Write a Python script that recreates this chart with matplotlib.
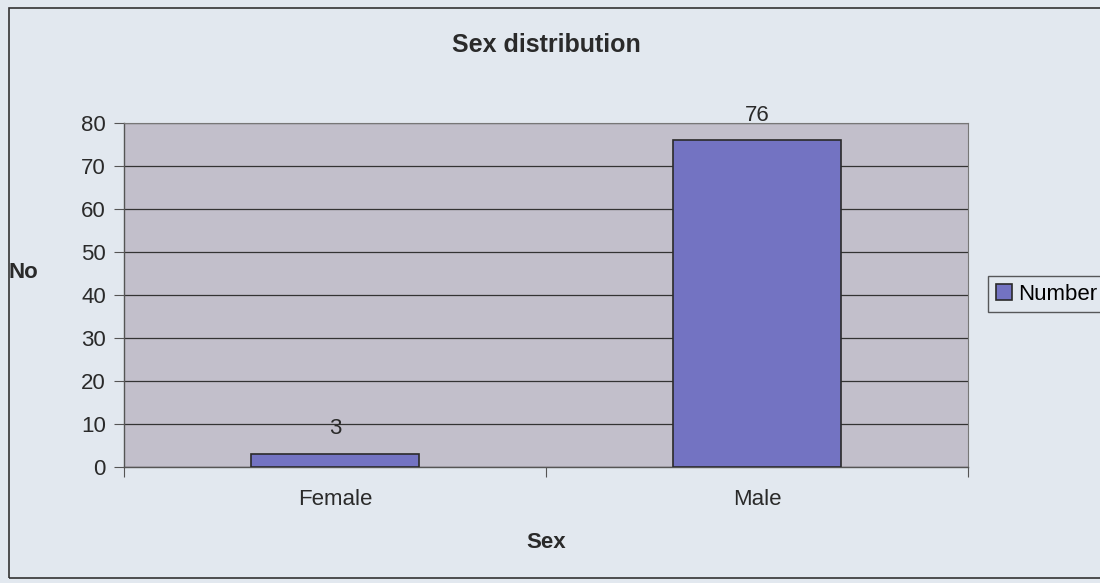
import matplotlib
matplotlib.use("Agg")
import matplotlib.pyplot as plt
from matplotlib.patches import Rectangle

categories = ["Female", "Male"]
counts = [3, 76]
series_name = "Number"
y_ticks = [0, 10, 20, 30, 40, 50, 60, 70, 80]

W, H = 1100, 583
FONT = "Liberation Sans"
INK = "#2a2a2a"
fig = plt.figure(figsize=(W / 100, H / 100), dpi=100)
fig.patch.set_facecolor("#e2e8ef")

# outer chart frame
fig.patches.append(Rectangle((9 / W, 1 - 578 / H), 1.2, (578 - 8) / H,
                             transform=fig.transFigure, fill=False,
                             edgecolor="#333333", linewidth=1.2))

ax = fig.add_axes([124 / W, 1 - 467 / H, (968 - 124) / W, (467 - 123) / H])
ax.set_facecolor("#c2bfcb")

x = list(range(len(categories)))
bars = ax.bar(x, counts, width=0.4, color="#7373c2", edgecolor="#2a2a2a",
              linewidth=1.2, label=series_name, zorder=3)
for xi, v in zip(x, counts):
    ax.text(xi, v + 3.4, str(v), ha="center", va="bottom", fontsize=16,
            color=INK, family=FONT, zorder=4, clip_on=False)

ax.set_xlim(-0.5, len(categories) - 0.5)
ax.set_ylim(0, 80)
ax.set_yticks(y_ticks)
ax.set_yticklabels([str(t) for t in y_ticks], fontsize=16,
                   family=FONT, color=INK)
ax.yaxis.grid(True, color="#333333", linewidth=0.9, zorder=1)
ax.set_axisbelow(True)

# category boundaries carry the x tick marks; labels sit at centres
ax.set_xticks([i - 0.5 for i in range(len(categories) + 1)])
ax.set_xticklabels([])
ax.set_xticks(x, minor=True)
ax.set_xticklabels(categories, minor=True, fontsize=16,
                   family=FONT, color=INK)
ax.tick_params(axis="x", which="major", length=7, color="#555555")
ax.tick_params(axis="x", which="minor", length=0, pad=16)
ax.tick_params(axis="y", length=7, color="#555555", pad=6)

for side in ["top", "right"]:
    ax.spines[side].set_color("#777777")
    ax.spines[side].set_linewidth(0.8)
for side in ["left", "bottom"]:
    ax.spines[side].set_color("#555555")
    ax.spines[side].set_linewidth(1.0)

fig.text(546 / W, 1 - 45 / H, "Sex distribution", ha="center", va="center",
         fontsize=18, fontweight="bold", family=FONT, color=INK)
fig.text(546 / W, 1 - 543 / H, "Sex", ha="center", va="center",
         fontsize=16, fontweight="bold", family=FONT, color=INK)
fig.text(9 / W, 1 - 272 / H, "No", ha="left", va="center",
         fontsize=16, fontweight="bold", family=FONT, color=INK)

leg = fig.legend(handles=[bars], labels=[series_name],
                 loc="center left", bbox_to_anchor=(988 / W, 1 - 294 / H),
                 prop={"family": FONT, "size": 16},
                 frameon=True, fancybox=False, handlelength=0.75,
                 handleheight=0.75, handletextpad=0.25, borderpad=0.35,
                 borderaxespad=0)
leg.get_frame().set_edgecolor("#333333")
leg.get_frame().set_facecolor("#e2e8ef")
leg.get_frame().set_linewidth(1.0)

fig.savefig("out.png", dpi=100, facecolor=fig.get_facecolor())
